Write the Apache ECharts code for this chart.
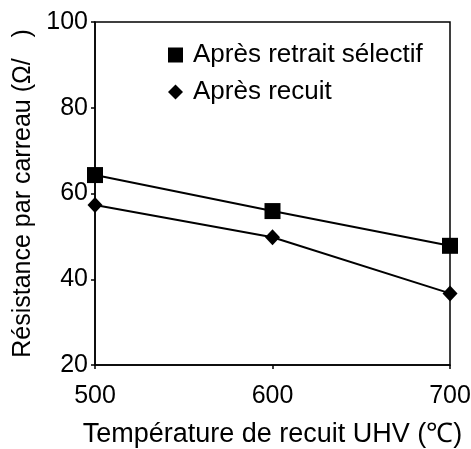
<!DOCTYPE html>
<html>
<head>
<meta charset="utf-8">
<script src="https://cdn.jsdelivr.net/npm/echarts@6/dist/echarts.min.js"></script>
<style>
  html, body { margin: 0; padding: 0; background: #fff; }
  #chart { width: 471px; height: 449px; }
</style>
</head>
<body>
<div id="chart"></div>
<script>
// Annealing temperature (°C)
const temperatures = [500, 600, 700];
// Sheet resistance after selective removal
const afterRemoval = [64.3, 55.9, 47.8];
// Sheet resistance after annealing
const afterAnneal = [57.3, 49.8, 36.7];
const seriesNames = ['Après retrait sélectif', 'Après recuit'];

const font = '"Liberation Sans", Arial, sans-serif';

const chart = echarts.init(document.getElementById('chart'));
chart.setOption({
  animation: false,
  backgroundColor: '#fff',
  grid: {
    left: 95, right: 21, top: 22, bottom: 84,
    outerBoundsMode: 'none',
    show: true, borderColor: '#000', borderWidth: 1.5
  },
  legend: {
    orient: 'vertical',
    left: 168, top: 42,
    padding: 0,
    itemGap: 11,
    itemWidth: 15, itemHeight: 15,
    textStyle: { fontFamily: font, fontSize: 26, color: '#000', padding: [0, 0, 0, 5] },
    data: [
      { name: seriesNames[0], icon: 'rect' },
      { name: seriesNames[1], icon: 'diamond' }
    ]
  },
  xAxis: {
    type: 'value',
    min: 500, max: 700, interval: 100,
    name: 'Température de recuit UHV (℃)',
    nameLocation: 'middle', nameGap: 56,
    nameTextStyle: { fontFamily: font, fontSize: 27, color: '#000' },
    axisLine: { lineStyle: { color: '#000', width: 1.5 } },
    axisTick: { show: true, length: 4, inside: false, lineStyle: { color: '#000', width: 1.5 } },
    axisLabel: { fontFamily: font, fontSize: 25, color: '#000', margin: 19 },
    splitLine: { show: false }
  },
  yAxis: {
    type: 'value',
    min: 20, max: 100, interval: 20,
    name: 'Résistance par carreau (Ω/   )',
    nameLocation: 'middle', nameGap: 50,
    nameTextStyle: { fontFamily: font, fontSize: 25, color: '#000' },
    axisLine: { show: true, lineStyle: { color: '#000', width: 1.5 } },
    axisTick: { show: true, length: 4, lineStyle: { color: '#000', width: 1.5 } },
    axisLabel: { fontFamily: font, fontSize: 25, color: '#000', margin: 7 },
    splitLine: { show: false }
  },
  series: [
    {
      name: seriesNames[0],
      type: 'line',
      data: temperatures.map((t, i) => [t, afterRemoval[i]]),
      symbol: 'rect', symbolSize: 16,
      lineStyle: { color: '#000', width: 2 },
      itemStyle: { color: '#000' },
      clip: false
    },
    {
      name: seriesNames[1],
      type: 'line',
      data: temperatures.map((t, i) => [t, afterAnneal[i]]),
      symbol: 'diamond', symbolSize: [15, 16],
      lineStyle: { color: '#000', width: 2 },
      itemStyle: { color: '#000' },
      clip: false
    }
  ]
});
</script>
</body>
</html>
